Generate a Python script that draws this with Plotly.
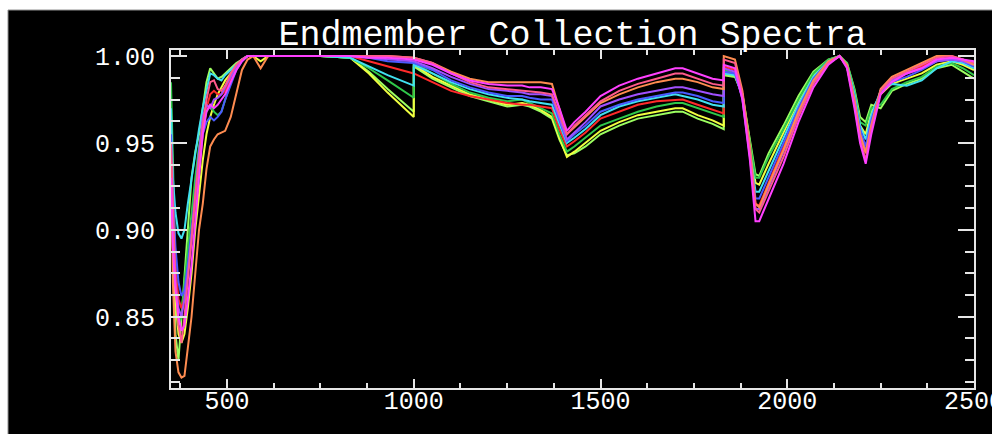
import plotly.graph_objects as go

# Wavelength grid (nm), grouped by region
wl_uv = [350, 355, 362, 370, 378, 386, 395, 405, 415, 425, 435, 445, 455, 465, 475,
         485, 495, 510, 525, 540, 555, 570, 590, 610]
wl_vis = [650, 750, 830, 880, 930, 1000]
wl_swir1 = [1000, 1050, 1100, 1150, 1200, 1250, 1290, 1310, 1340, 1370, 1390, 1410,
            1430, 1460, 1500, 1550, 1600, 1650, 1700, 1720, 1760, 1800, 1830]
wl_swir2 = [1830, 1860, 1880, 1900, 1915, 1925, 1950, 1990, 2030, 2070, 2110, 2140,
            2160, 2180, 2195, 2210, 2225, 2250, 2280, 2320, 2360, 2400, 2440, 2470, 2500]
wavelength = wl_uv + wl_vis + wl_swir1 + wl_swir2

lightgreen = ([0.96, 0.9, 0.84, 0.825, 0.85, 0.875, 0.905, 0.93, 0.945, 0.955, 0.97, 0.985, 0.993, 0.99, 0.987, 0.988, 0.99, 0.993, 0.996, 0.998, 1.0, 1.0, 1.0, 1.0]
              + [1.0, 1.0, 0.999, 0.991, 0.981, 0.968]
              + [0.994, 0.987, 0.982, 0.977, 0.974, 0.971, 0.972, 0.971, 0.968, 0.964, 0.952, 0.943, 0.944, 0.948, 0.955, 0.96, 0.964, 0.966, 0.968, 0.968, 0.964, 0.961, 0.958]
              + [0.989, 0.988, 0.978, 0.953, 0.932, 0.931, 0.944, 0.96, 0.977, 0.991, 0.998, 1.0, 0.996, 0.981, 0.965, 0.962, 0.972, 0.97, 0.98, 0.984, 0.987, 0.993, 0.995, 0.991, 0.987])
yellow = ([0.94, 0.89, 0.86, 0.84, 0.835, 0.84, 0.855, 0.875, 0.9, 0.92, 0.94, 0.955, 0.965, 0.972, 0.978, 0.982, 0.986, 0.99, 0.995, 0.998, 1.0, 1.0, 0.997, 1.0]
          + [1.0, 1.0, 0.999, 0.99, 0.979, 0.965]
          + [0.995, 0.988, 0.983, 0.978, 0.975, 0.972, 0.973, 0.972, 0.969, 0.965, 0.953, 0.942, 0.945, 0.95, 0.957, 0.962, 0.966, 0.968, 0.97, 0.97, 0.966, 0.963, 0.96]
          + [0.99, 0.989, 0.977, 0.95, 0.927, 0.926, 0.938, 0.956, 0.974, 0.989, 0.997, 1.0, 0.995, 0.978, 0.96, 0.955, 0.968, 0.978, 0.984, 0.987, 0.99, 0.995, 0.997, 0.995, 0.992])
green = ([0.985, 0.94, 0.88, 0.845, 0.85, 0.87, 0.89, 0.91, 0.93, 0.948, 0.96, 0.968, 0.972, 0.968, 0.966, 0.968, 0.975, 0.985, 0.993, 0.998, 1.0, 1.0, 1.0, 1.0]
         + [1.0, 1.0, 0.999, 0.993, 0.986, 0.976]
         + [0.996, 0.99, 0.984, 0.979, 0.976, 0.974, 0.975, 0.973, 0.97, 0.967, 0.955, 0.945, 0.948, 0.953, 0.96, 0.964, 0.968, 0.971, 0.973, 0.973, 0.97, 0.967, 0.965]
         + [0.992, 0.99, 0.978, 0.952, 0.93, 0.93, 0.942, 0.958, 0.975, 0.99, 0.998, 1.0, 0.996, 0.98, 0.962, 0.96, 0.97, 0.972, 0.981, 0.985, 0.988, 0.994, 0.996, 0.993, 0.989])
red = ([0.96, 0.92, 0.88, 0.86, 0.855, 0.86, 0.875, 0.895, 0.915, 0.935, 0.955, 0.97, 0.978, 0.98, 0.978, 0.978, 0.98, 0.987, 0.994, 0.998, 1.0, 1.0, 1.0, 1.0]
       + [1.0, 1.0, 1.0, 0.997, 0.994, 0.99]
       + [0.99, 0.985, 0.98, 0.977, 0.975, 0.973, 0.972, 0.972, 0.971, 0.97, 0.958, 0.948, 0.951, 0.956, 0.964, 0.968, 0.972, 0.974, 0.975, 0.975, 0.972, 0.969, 0.967]
       + [0.994, 0.992, 0.977, 0.945, 0.915, 0.914, 0.927, 0.947, 0.968, 0.986, 0.996, 1.0, 0.994, 0.974, 0.955, 0.945, 0.96, 0.98, 0.986, 0.99, 0.994, 0.998, 0.999, 0.997, 0.995])
cyan = ([0.97, 0.93, 0.91, 0.898, 0.895, 0.9, 0.915, 0.93, 0.945, 0.958, 0.97, 0.98, 0.99, 0.989, 0.987, 0.986, 0.989, 0.992, 0.995, 0.998, 1.0, 1.0, 1.0, 1.0]
        + [1.0, 1.0, 0.999, 0.994, 0.989, 0.983]
        + [0.995, 0.99, 0.985, 0.981, 0.978, 0.976, 0.975, 0.974, 0.973, 0.972, 0.961, 0.95, 0.953, 0.958, 0.966, 0.971, 0.974, 0.976, 0.978, 0.977, 0.975, 0.972, 0.971]
        + [0.99, 0.989, 0.977, 0.947, 0.922, 0.922, 0.934, 0.953, 0.972, 0.988, 0.997, 1.0, 0.995, 0.978, 0.96, 0.952, 0.966, 0.98, 0.984, 0.983, 0.986, 0.993, 0.997, 0.996, 0.993])
blue = ([0.955, 0.92, 0.89, 0.87, 0.862, 0.865, 0.88, 0.9, 0.92, 0.94, 0.955, 0.962, 0.965, 0.963, 0.965, 0.968, 0.975, 0.984, 0.992, 0.997, 1.0, 1.0, 1.0, 1.0]
        + [1.0, 1.0, 1.0, 0.999, 0.997, 0.996]
        + [0.996, 0.992, 0.986, 0.982, 0.979, 0.977, 0.977, 0.976, 0.975, 0.975, 0.963, 0.951, 0.955, 0.96, 0.968, 0.972, 0.975, 0.977, 0.979, 0.979, 0.977, 0.974, 0.973]
        + [0.991, 0.99, 0.976, 0.944, 0.918, 0.918, 0.93, 0.95, 0.97, 0.987, 0.997, 1.0, 0.994, 0.976, 0.958, 0.948, 0.963, 0.98, 0.985, 0.988, 0.992, 0.997, 0.998, 0.997, 0.994])
purple = ([0.94, 0.9, 0.87, 0.855, 0.85, 0.86, 0.875, 0.895, 0.92, 0.945, 0.965, 0.972, 0.97, 0.975, 0.976, 0.978, 0.982, 0.988, 0.994, 0.998, 1.0, 1.0, 1.0, 1.0]
          + [1.0, 1.0, 1.0, 0.999, 0.998, 0.997]
          + [0.997, 0.993, 0.988, 0.984, 0.981, 0.98, 0.979, 0.978, 0.978, 0.977, 0.965, 0.952, 0.956, 0.962, 0.971, 0.975, 0.978, 0.98, 0.982, 0.982, 0.98, 0.978, 0.977]
          + [0.993, 0.991, 0.975, 0.942, 0.912, 0.912, 0.925, 0.945, 0.967, 0.985, 0.996, 1.0, 0.994, 0.974, 0.955, 0.945, 0.96, 0.98, 0.986, 0.99, 0.993, 0.997, 0.998, 0.997, 0.995])
orange = ([0.95, 0.87, 0.83, 0.818, 0.815, 0.816, 0.832, 0.85, 0.875, 0.9, 0.915, 0.935, 0.948, 0.952, 0.955, 0.956, 0.957, 0.965, 0.978, 0.992, 0.998, 1.0, 0.993, 1.0]
          + [1.0, 1.0, 1.0, 1.0, 1.0, 0.999]
          + [0.999, 0.996, 0.991, 0.987, 0.985, 0.985, 0.985, 0.985, 0.985, 0.984, 0.97, 0.955, 0.959, 0.965, 0.973, 0.978, 0.982, 0.985, 0.987, 0.987, 0.985, 0.982, 0.981]
          + [1.0, 0.998, 0.98, 0.948, 0.915, 0.913, 0.926, 0.946, 0.968, 0.986, 0.997, 1.0, 0.995, 0.975, 0.955, 0.944, 0.96, 0.981, 0.988, 0.992, 0.996, 1.0, 1.0, 0.998, 0.995])
pink = ([0.95, 0.91, 0.87, 0.845, 0.835, 0.85, 0.87, 0.895, 0.92, 0.94, 0.96, 0.975, 0.985, 0.986, 0.981, 0.98, 0.983, 0.99, 0.995, 0.998, 1.0, 1.0, 1.0, 1.0]
        + [1.0, 1.0, 1.0, 1.0, 1.0, 0.999]
        + [0.999, 0.996, 0.99, 0.985, 0.982, 0.981, 0.98, 0.98, 0.979, 0.978, 0.966, 0.955, 0.96, 0.966, 0.974, 0.98, 0.984, 0.987, 0.99, 0.99, 0.987, 0.984, 0.983]
        + [0.998, 0.996, 0.978, 0.945, 0.912, 0.91, 0.922, 0.942, 0.965, 0.984, 0.996, 1.0, 0.994, 0.972, 0.952, 0.94, 0.958, 0.98, 0.987, 0.991, 0.995, 0.999, 1.0, 0.998, 0.996])
magenta = ([0.93, 0.89, 0.865, 0.85, 0.842, 0.845, 0.86, 0.88, 0.905, 0.93, 0.955, 0.968, 0.972, 0.97, 0.972, 0.975, 0.978, 0.985, 0.992, 0.997, 1.0, 1.0, 1.0, 1.0]
           + [1.0, 1.0, 1.0, 0.999, 0.999, 0.998]
           + [0.998, 0.995, 0.99, 0.986, 0.984, 0.983, 0.983, 0.982, 0.982, 0.981, 0.97, 0.957, 0.962, 0.968, 0.977, 0.983, 0.987, 0.99, 0.993, 0.993, 0.99, 0.987, 0.986]
           + [0.995, 0.993, 0.975, 0.94, 0.905, 0.905, 0.918, 0.938, 0.962, 0.982, 0.995, 1.0, 0.993, 0.97, 0.95, 0.938, 0.955, 0.978, 0.985, 0.99, 0.993, 0.998, 0.999, 0.998, 0.997])

series = [
    ("lightgreen", lightgreen, "#9cff60"),
    ("yellow", yellow, "#f0ff40"),
    ("green", green, "#30c84a"),
    ("red", red, "#ff2a2a"),
    ("cyan", cyan, "#40e0f0"),
    ("blue", blue, "#4a5aff"),
    ("purple", purple, "#a050ff"),
    ("orange", orange, "#ff8c50"),
    ("pink", pink, "#ff5a8c"),
    ("magenta", magenta, "#ff40ff"),
]

x_ticks = [500, 1000, 1500, 2000, 2500]
y_ticks = [0.85, 0.90, 0.95, 1.00]
y_ticktext = ["0.85", "0.90", "0.95", "1.00"]

fig = go.Figure()
for name, vals, col in series:
    fig.add_trace(go.Scatter(x=wavelength, y=vals, mode="lines", name=name,
                             line=dict(color=col, width=2)))

L, R, T, B = 171, 18, 50, 46
W, H = 992, 434
pw, ph = W - L - R, H - T - B

font_family = "Liberation Mono, DejaVu Sans Mono, monospace"
axis_common = dict(showline=True, linecolor="#e6e6e6", linewidth=2, mirror="ticks",
                   ticks="inside", tickcolor="#e6e6e6", tickwidth=2,
                   showgrid=False, zeroline=False, ticklabeloverflow="allow",
                   automargin=False,
                   tickfont=dict(family=font_family, size=25, color="white"))

fig.update_layout(
    width=W, height=H,
    margin=dict(l=L, r=R, t=T, b=B),
    paper_bgcolor="white", plot_bgcolor="black",
    showlegend=False,
    title=dict(text="Endmember Collection Spectra", x=0.5, xref="paper", xanchor="center",
               y=1 - 33 / H, yref="container", yanchor="middle",
               font=dict(family=font_family, size=35, color="white")),
    xaxis=dict(range=[350, 2500], tickvals=x_ticks, ticklen=9,
               minor=dict(dtick=125, tick0=500, ticklen=5, ticks="inside",
                          tickcolor="#e6e6e6", tickwidth=2),
               ticklabelstandoff=-11, **axis_common),
    yaxis=dict(range=[0.809, 1.0035], tickvals=y_ticks, ticktext=y_ticktext, ticklen=16,
               minor=dict(dtick=0.0125, tick0=0.85, ticklen=9, ticks="inside",
                          tickcolor="#e6e6e6", tickwidth=2),
               ticklabelstandoff=9, **axis_common),
    shapes=[dict(type="rect", xref="paper", yref="paper", layer="below",
                 x0=(8 - L) / pw, x1=(W + 10 - L) / pw,
                 y0=(H - B - (H + 10)) / ph, y1=(H - B - 10) / ph,
                 fillcolor="black", line=dict(color="#909090", width=1))],
)

fig.write_html("out.html")
